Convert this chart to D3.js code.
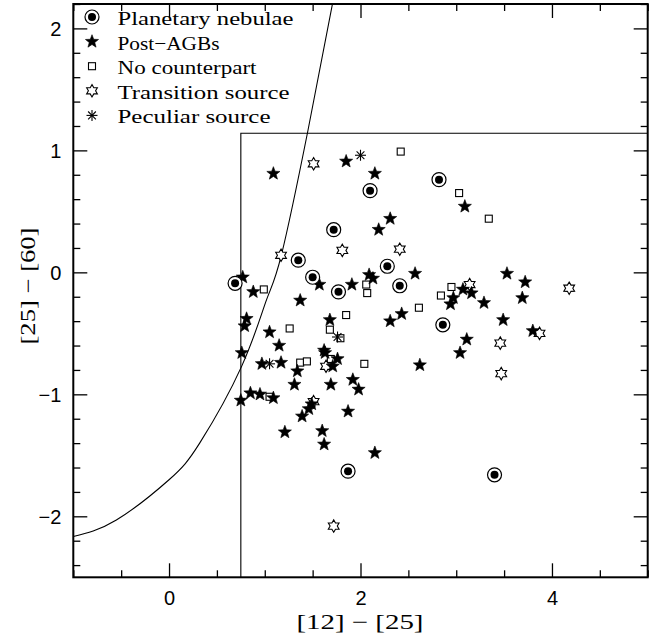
<!DOCTYPE html>
<html>
<head>
<meta charset="utf-8">
<script src="https://cdn.jsdelivr.net/npm/d3@7"></script>
<style>
  body { margin: 0; background: #fff; }
  svg { display: block; font-family: "Liberation Serif", "DejaVu Serif", serif; }
  .tick line { stroke: #000; stroke-width: 1.3; }
  .tick text { font-size: 20px; fill: #000; }
</style>
</head>
<body>
<svg id="chart" width="661" height="639"></svg>
<script>
// values
const planetaryNebulae = [[0.69,-0.09],[1.35,0.10],[1.72,0.35],[2.10,0.67],[1.50,-0.04],[1.77,-0.16],
  [2.28,0.05],[2.41,-0.11],[2.82,0.76],[2.86,-0.43],[1.87,-1.63],[3.40,-1.66]];
const postAGBs = [[1.09,0.81],[1.85,0.91],[2.15,0.81],[2.31,0.44],[2.19,0.35],[0.77,-0.04],[0.88,-0.16],
  [1.57,-0.10],[1.91,-0.10],[2.09,-0.02],[2.13,-0.05],[2.57,-0.01],[1.37,-0.23],[3.09,0.54],[3.53,-0.01],
  [3.72,-0.08],[3.07,-0.14],[3.16,-0.17],[2.97,-0.21],[2.94,-0.26],[3.29,-0.25],[3.69,-0.21],
  [0.81,-0.38],[0.79,-0.44],[1.05,-0.49],[1.68,-0.39],[1.15,-0.60],[0.76,-0.66],[0.97,-0.75],[1.17,-0.74],
  [1.62,-0.64],[1.63,-0.66],[1.76,-0.71],[1.71,-0.77],[1.34,-0.81],[1.31,-0.92],[1.69,-0.92],[1.92,-0.88],
  [1.98,-0.96],[0.85,-0.99],[0.95,-1.00],[1.09,-1.03],[0.75,-1.05],[1.49,-1.08],[1.46,-1.12],[1.39,-1.18],
  [1.87,-1.14],[1.21,-1.31],[1.60,-1.30],[1.62,-1.41],[2.15,-1.48],[2.62,-0.76],[2.31,-0.40],[2.43,-0.34],
  [3.49,-0.39],[3.80,-0.48],[3.11,-0.55],[3.04,-0.66]];
const noCounterpart = [[2.42,0.99],[3.03,0.65],[3.34,0.44],[2.95,-0.12],[2.84,-0.19],[2.61,-0.29],[0.99,-0.14],
  [2.06,-0.10],[2.07,-0.17],[1.85,-0.35],[1.26,-0.46],[1.68,-0.47],[1.79,-0.54],[1.37,-0.74],[1.44,-0.73],
  [1.69,-0.71],[2.04,-0.75],[1.05,-1.02]];
const transitionSources = [[1.51,0.89],[1.81,0.18],[2.41,0.19],[1.17,0.14],[3.14,-0.10],[4.18,-0.13],[3.87,-0.50],
  [3.46,-0.58],[3.47,-0.83],[1.72,-2.08],[1.64,-0.77],[1.51,-1.06]];
const peculiarSources = [[2.00,0.96],[1.05,-0.75],[1.76,-0.53]];

// curve and box, also
const curveX = [-1.0, -0.55, 0.0, 0.32, 0.757, 1.018, 1.174, 1.452, 1.707];
const curveY = [-2.166, -2.03, -1.70, -1.40, -0.773, -0.226, 0.143, 1.167, 2.2];
const boxX = 0.75, boxY = 1.14;

const xMajor = [0, 2, 4];
const xMinor = [-1, -0.5, 0.5, 1, 1.5, 2.5, 3, 3.5, 4.5, 5];
const yMajor = [-2, -1, 0, 1, 2];
const yMinor = [-2.4, -2.2, -1.8, -1.6, -1.4, -1.2, -0.8, -0.6, -0.4, -0.2, 0.2, 0.4, 0.6, 0.8, 1.2, 1.4, 1.6, 1.8, 2.2];

const legendLabels = ["Planetary nebulae", "Post\u2212AGBs", "No counterpart", "Transition source", "Peculiar source"];
const legendWidths = [176, 102, 139, 172, 153];

const pLeft = 73.3, pRight = 647.7, pTop = 4, pBottom = 577.3;
const svg = d3.select("#chart");
const x = d3.scaleLinear().domain([-1, 5]).range([pLeft, pRight]);
const y = d3.scaleLinear().domain([-2.5, 2.2]).range([pBottom, pTop]);

svg.append("defs").append("clipPath").attr("id", "clip")
  .append("rect").attr("x", pLeft).attr("y", pTop).attr("width", pRight - pLeft).attr("height", pBottom - pTop);

// axes with inward ticks on all four sides
function addAxis(axis, tr, vals, size, labels, dy) {
  const g = svg.append("g").attr("transform", tr)
    .call(axis.tickValues(vals).tickSize(-size).tickPadding(12).tickFormat(labels ? d3.format("d") : ""));
  g.select(".domain").remove();
  if (labels) g.selectAll(".tick text").attr("dy", dy);
  return g;
}
addAxis(d3.axisBottom(x), `translate(0,${pBottom})`, xMajor, 14, true, "0.78em");
addAxis(d3.axisBottom(x), `translate(0,${pBottom})`, xMinor, 7, false);
addAxis(d3.axisTop(x), `translate(0,${pTop})`, xMajor, 14, false);
addAxis(d3.axisTop(x), `translate(0,${pTop})`, xMinor, 7, false);
addAxis(d3.axisLeft(y), `translate(${pLeft},0)`, yMajor, 14, true, "0.35em");
addAxis(d3.axisLeft(y), `translate(${pLeft},0)`, yMinor, 7, false);
addAxis(d3.axisRight(y), `translate(${pRight},0)`, yMajor, 14, false);
addAxis(d3.axisRight(y), `translate(${pRight},0)`, yMinor, 7, false);

svg.append("rect").attr("x", pLeft).attr("y", pTop).attr("width", pRight - pLeft).attr("height", pBottom - pTop)
  .attr("fill", "none").attr("stroke", "#000").attr("stroke-width", 2);

// box and curve
svg.append("path")
  .attr("d", d3.line()([[x(boxX), y(-2.5)], [x(boxX), y(boxY)], [x(5), y(boxY)]]))
  .attr("fill", "none").attr("stroke", "#000").attr("stroke-width", 1.1);

svg.append("path").attr("clip-path", "url(#clip)")
  .datum(curveX.map((v, i) => [v, curveY[i]]))
  .attr("d", d3.line().x(d => x(d[0])).y(d => y(d[1])).curve(d3.curveNatural))
  .attr("fill", "none").attr("stroke", "#000").attr("stroke-width", 1.1);

// marker shapes
function starPath(n, ro, ri) {
  const pts = [];
  for (let i = 0; i < 2 * n; i++) {
    const a = -Math.PI / 2 + i * Math.PI / n;
    const r = i % 2 ? ri : ro;
    pts.push([r * Math.cos(a), r * Math.sin(a)]);
  }
  return d3.line()(pts) + "Z";
}
const drawers = {
  pn(g) {
    g.append("circle").attr("r", 7).attr("fill", "#fff").attr("stroke", "#000").attr("stroke-width", 1.2);
    g.append("circle").attr("r", 4).attr("fill", "#000");
  },
  agb(g) {
    g.append("path").attr("d", starPath(5, 6.9, 2.9)).attr("fill", "#000").attr("stroke", "#000").attr("stroke-width", 0.6);
  },
  sq(g) {
    g.append("rect").attr("x", -3.5).attr("y", -3.5).attr("width", 7).attr("height", 7)
      .attr("fill", "#fff").attr("stroke", "#000").attr("stroke-width", 1.1);
  },
  tr(g) {
    g.append("path").attr("d", starPath(6, 6.2, 3.6)).attr("fill", "#fff").attr("stroke", "#000").attr("stroke-width", 1.1);
  },
  pec(g) {
    for (let i = 0; i < 4; i++) {
      const a = i * Math.PI / 4, r = 5.5;
      g.append("line").attr("x1", -r * Math.cos(a)).attr("y1", -r * Math.sin(a))
        .attr("x2", r * Math.cos(a)).attr("y2", r * Math.sin(a))
        .attr("stroke", "#000").attr("stroke-width", 1.1);
    }
  }
};

const sets = [[noCounterpart, "sq"], [transitionSources, "tr"], [peculiarSources, "pec"], [postAGBs, "agb"], [planetaryNebulae, "pn"]];
sets.forEach(([data, kind]) => {
  svg.append("g").selectAll("g").data(data).enter().append("g")
    .attr("transform", d => `translate(${x(d[0])},${y(d[1])})`)
    .each(function() { drawers[kind](d3.select(this)); });
});

// legend
const legendKinds = ["pn", "agb", "sq", "tr", "pec"];
legendKinds.forEach((k, i) => {
  const base = 25 + i * 24.6;
  const g = svg.append("g").attr("transform", `translate(92,${base - 8})`);
  drawers[k](g);
  svg.append("text").attr("x", 117.5).attr("y", base)
    .attr("font-size", 19).attr("textLength", legendWidths[i]).attr("lengthAdjust", "spacingAndGlyphs")
    .text(legendLabels[i]);
});

// axis titles
svg.append("text").attr("x", 360).attr("y", 629).attr("text-anchor", "middle").attr("font-size", 21)
  .attr("textLength", 127).attr("lengthAdjust", "spacingAndGlyphs")
  .text("[12] \u2212 [25]");
svg.append("text").attr("transform", "translate(28,286) rotate(-90)").attr("text-anchor", "middle")
  .attr("dy", "0.35em").attr("font-size", 21).attr("textLength", 117).attr("lengthAdjust", "spacingAndGlyphs")
  .text("[25] \u2212 [60]");
</script>
</body>
</html>
